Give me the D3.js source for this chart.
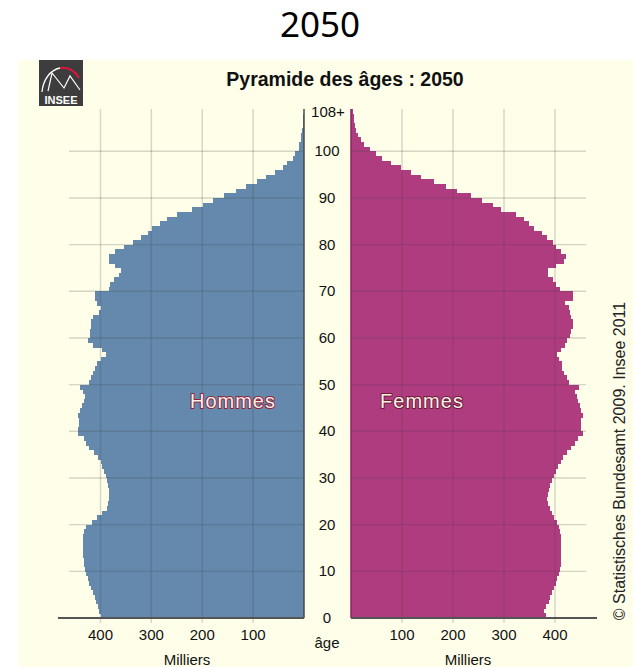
<!DOCTYPE html>
<html lang="fr">

<head>
    <meta charset="UTF-8">
    <title>Pyramide des âges 2050</title>
    <script src="https://d3js.org/d3.v7.min.js"></script>
    <style>
        body { margin: 0; background: #fff; }
        svg { display: block; font-family: Arial, "Liberation Sans", sans-serif; }
    </style>
</head>

<body>
    <svg width="633" height="667"></svg>

    <script>
        // ages 0 .. 108 (108 = "108+")
        const ages = d3.range(0, 109);

        // Hommes, milliers, age 0 -> 108
        const hommes = [400, 402, 405, 409, 411, 415, 419, 422, 425, 428,
            430, 432, 433, 434, 434, 435, 435, 434, 432, 428,
            417, 407, 397, 388, 386, 384, 383, 384, 386, 387,
            390, 394, 397, 400, 404, 413, 423, 428, 433, 445,
            444, 443, 443, 445, 440, 436, 433, 431, 435, 440,
            423, 418, 415, 411, 407, 400, 390, 397, 415, 424,
            420, 420, 418, 418, 415, 403, 399, 407, 411, 410,
            384, 381, 374, 364, 359, 371, 383, 383, 371, 353,
            336, 321, 307, 299, 284, 269, 249, 221, 199, 179,
            158, 134, 114, 93, 75, 57, 41, 33, 21, 18,
            10, 9, 6, 5, 3, 2.5, 1.5, 1, 0.5];

        // Femmes, milliers, age 0 -> 108
        const femmes = [383, 379, 383, 388, 391, 394, 398, 401, 404, 408,
            409, 411, 411, 412, 412, 412, 412, 411, 409, 408,
            404, 399, 394, 390, 386, 385, 386, 388, 391, 394,
            398, 401, 406, 411, 416, 423, 432, 440, 445, 455,
            451, 451, 451, 455, 450, 449, 445, 443, 440, 447,
            427, 424, 417, 414, 413, 408, 403, 411, 419, 424,
            430, 432, 435, 435, 432, 430, 427, 419, 436, 436,
            409, 401, 396, 386, 386, 401, 417, 422, 412, 401,
            396, 385, 375, 359, 349, 339, 323, 295, 279, 256,
            236, 208, 187, 162, 138, 118, 98, 79, 60, 49,
            37, 25, 19, 13, 10, 8, 6, 5, 3.6];

        const valueTicks = [100, 200, 300, 400];
        const ageTicks = [0, 10, 20, 30, 40, 50, 60, 70, 80, 90, 100];

        const svg = d3.select("svg");

        // scales
        const y = d3.scaleLinear().domain([0, 109]).range([618, 109.3]);
        const xLeft = d3.scaleLinear().domain([0, 400]).range([304, 100.5]);
        const xRight = d3.scaleLinear().domain([0, 400]).range([351, 555]);

        // big title on white
        svg.append("text")
            .attr("x", 320).attr("y", 36.5)
            .attr("text-anchor", "middle")
            .style("font-family", "'Noto Sans', 'Open Sans', sans-serif")
            .style("font-size", "35px")
            .attr("fill", "#000")
            .text("2050");

        // cream panel
        svg.append("rect")
            .attr("x", 18).attr("y", 60)
            .attr("width", 615).attr("height", 607)
            .attr("fill", "#fefee9");

        // INSEE logo
        const logo = svg.append("g");
        logo.append("rect")
            .attr("x", 39).attr("y", 60).attr("width", 44).attr("height", 46)
            .attr("fill", "#3d3d3d");
        logo.append("path")
            .attr("d", "M42,92 C43,80 50,70 60,68")
            .attr("fill", "none").attr("stroke", "#fff").attr("stroke-width", 1.3);
        logo.append("path")
            .attr("d", "M60,68 C68,67 75,71 79,78")
            .attr("fill", "none").attr("stroke", "#e0153c").attr("stroke-width", 2);
        logo.append("path")
            .attr("d", "M48,91 L52,73 L64,88 L70,76 L80,90")
            .attr("fill", "none").attr("stroke", "#fff").attr("stroke-width", 1.2);
        logo.append("text")
            .attr("x", 61).attr("y", 104)
            .attr("text-anchor", "middle")
            .style("font-size", "11px").style("font-weight", "bold")
            .attr("fill", "#fff")
            .text("INSEE");

        // chart title
        svg.append("text")
            .attr("x", 345).attr("y", 86)
            .attr("text-anchor", "middle")
            .style("font-size", "19.5px").style("font-weight", "bold")
            .attr("fill", "#111")
            .text("Pyramide des âges : 2050");

        // bars
        const bars = svg.append("g").attr("shape-rendering", "crispEdges");
        bars.selectAll(".h")
            .data(ages)
            .enter()
            .append("rect")
            .attr("class", "h")
            .attr("x", d => xLeft(hommes[d]))
            .attr("y", d => y(d + 1))
            .attr("width", d => xLeft(0) - xLeft(hommes[d]))
            .attr("height", d => y(d) - y(d + 1) + 0.3)
            .attr("fill", "#6489ad");
        bars.selectAll(".f")
            .data(ages)
            .enter()
            .append("rect")
            .attr("class", "f")
            .attr("x", xRight(0))
            .attr("y", d => y(d + 1))
            .attr("width", d => xRight(femmes[d]) - xRight(0))
            .attr("height", d => y(d) - y(d + 1) + 0.3)
            .attr("fill", "#b03c80");

        // grid (drawn over the bars, semi transparent)
        const grid = svg.append("g")
            .attr("stroke", "#444")
            .attr("stroke-opacity", 0.22)
            .attr("stroke-width", 1.4);
        grid.selectAll(".hl")
            .data(ageTicks.filter(a => a > 0))
            .enter()
            .append("line")
            .attr("x1", 69).attr("x2", xLeft(0))
            .attr("y1", d => y(d)).attr("y2", d => y(d));
        grid.selectAll(".hr")
            .data(ageTicks.filter(a => a > 0))
            .enter()
            .append("line")
            .attr("x1", xRight(0)).attr("x2", 586)
            .attr("y1", d => y(d)).attr("y2", d => y(d));
        grid.selectAll(".vl")
            .data(valueTicks)
            .enter()
            .append("line")
            .attr("x1", d => xLeft(d)).attr("x2", d => xLeft(d))
            .attr("y1", 109).attr("y2", 623);
        grid.selectAll(".vr")
            .data(valueTicks)
            .enter()
            .append("line")
            .attr("x1", d => xRight(d)).attr("x2", d => xRight(d))
            .attr("y1", 109).attr("y2", 623);

        // axis lines
        svg.append("line")
            .attr("x1", xLeft(0)).attr("x2", xLeft(0))
            .attr("y1", 109).attr("y2", 618)
            .attr("stroke", "#4a4a4a").attr("stroke-width", 1.5);
        svg.append("line")
            .attr("x1", xRight(0)).attr("x2", xRight(0))
            .attr("y1", 109).attr("y2", 618)
            .attr("stroke", "#8c2462").attr("stroke-width", 1.5);
        svg.append("line")
            .attr("x1", 58).attr("x2", xLeft(0))
            .attr("y1", 618).attr("y2", 618)
            .attr("stroke", "#555").attr("stroke-width", 2);
        svg.append("line")
            .attr("x1", xRight(0)).attr("x2", 597)
            .attr("y1", 618).attr("y2", 618)
            .attr("stroke", "#555").attr("stroke-width", 2);

        // age labels
        const ageLabels = svg.append("g")
            .attr("text-anchor", "middle")
            .style("font-size", "15px")
            .attr("fill", "#111");
        ageLabels.selectAll("text")
            .data(ageTicks)
            .enter()
            .append("text")
            .attr("x", 327)
            .attr("y", d => y(d) + 5)
            .text(d => d);
        ageLabels.append("text")
            .attr("x", 328).attr("y", 117)
            .text("108+");
        ageLabels.append("text")
            .attr("x", 327).attr("y", 648)
            .text("âge");

        // value tick labels
        const valueLabels = svg.append("g")
            .attr("text-anchor", "middle")
            .style("font-size", "15px")
            .attr("fill", "#111");
        valueLabels.selectAll(".tl")
            .data(valueTicks)
            .enter()
            .append("text")
            .attr("x", d => xLeft(d)).attr("y", 640)
            .text(d => d);
        valueLabels.selectAll(".tr")
            .data(valueTicks)
            .enter()
            .append("text")
            .attr("x", d => xRight(d)).attr("y", 640)
            .text(d => d);
        valueLabels.append("text")
            .attr("x", 187).attr("y", 665)
            .text("Milliers");
        valueLabels.append("text")
            .attr("x", 468).attr("y", 665)
            .text("Milliers");

        // sex labels (light fill with dark outline)
        svg.append("text")
            .attr("x", 233).attr("y", 408)
            .attr("text-anchor", "middle")
            .style("font-size", "20px").style("letter-spacing", "1px")
            .style("paint-order", "stroke")
            .attr("fill", "#fbeeee").attr("stroke", "#8e2436").attr("stroke-width", 2)
            .attr("stroke-linejoin", "round")
            .text("Hommes");
        svg.append("text")
            .attr("x", 422).attr("y", 408)
            .attr("text-anchor", "middle")
            .style("font-size", "20px").style("letter-spacing", "1px")
            .style("paint-order", "stroke")
            .attr("fill", "#fbf2e6").attr("stroke", "#6e1c3a").attr("stroke-width", 2)
            .attr("stroke-linejoin", "round")
            .text("Femmes");

        // source
        svg.append("text")
            .attr("transform", "translate(625,461) rotate(-90)")
            .attr("text-anchor", "middle")
            .style("font-size", "16px")
            .attr("fill", "#222")
            .text("© Statistisches Bundesamt 2009. Insee 2011");
    </script>
</body>

</html>
